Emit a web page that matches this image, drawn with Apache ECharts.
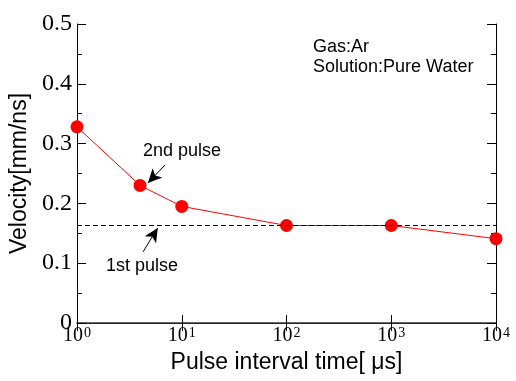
<!DOCTYPE html>
<html>
<head>
<meta charset="utf-8">
<script src="https://cdn.jsdelivr.net/npm/echarts@6/dist/echarts.min.js"></script>
<style>
  html, body { margin: 0; padding: 0; background: #fff; }
  #chart { width: 516px; height: 381px; }
</style>
</head>
<body>
<div id="chart"></div>
<script>
// pulse interval (us) vs velocity (mm/ns)
const intervals = [1, 4, 10, 100, 1000, 10000]
const velocities = [0.328, 0.23, 0.195, 0.163, 0.163, 0.141]
const firstPulseLevel = 0.164

const sans = 'Liberation Sans, Arial, sans-serif'
const serif = 'Liberation Serif, Times New Roman, serif'

const chart = echarts.init(document.getElementById('chart'))

const tickStyle = { color: '#000', width: 1 }

function decadeLabel(v) {
  const e = Math.round(Math.log10(v))
  return '{b|10}{s|' + e + '}'
}

const option = {
  backgroundColor: '#fff',
  animation: false,
  grid: { left: 77, right: 20, top: 24, bottom: 58, containLabel: false, outerBoundsMode: 'none' },
  xAxis: [
    {
      type: 'log',
      logBase: 10,
      min: 1,
      max: 10000,
      name: 'Pulse interval time[ \u03bcs]',
      nameLocation: 'middle',
      nameGap: 27,
      nameTextStyle: { fontFamily: sans, fontSize: 23, color: '#000' },
      axisLine: { lineStyle: { color: '#000', width: 1 } },
      axisTick: { inside: true, length: 8, lineStyle: tickStyle },
      minorTick: { show: false },
      splitLine: { show: false },
      axisLabel: {
        margin: 3,
        color: '#000',
        formatter: decadeLabel,
        rich: {
          b: { fontFamily: serif, fontSize: 20, color: '#000', verticalAlign: 'bottom', lineHeight: 20 },
          s: { fontFamily: serif, fontSize: 14, color: '#000', verticalAlign: 'top', lineHeight: 14, padding: [0, 0, 0, 1] }
        }
      }
    },
    {
      type: 'log',
      logBase: 10,
      min: 1,
      max: 10000,
      position: 'top',
      axisLine: { lineStyle: { color: '#333', width: 1.5 } },
      axisTick: { inside: true, length: 8, lineStyle: tickStyle },
      axisLabel: { show: false },
      splitLine: { show: false }
    }
  ],
  yAxis: [
    {
      type: 'value',
      min: 0,
      max: 0.5,
      interval: 0.1,
      name: 'Velocity[mm/ns]',
      nameLocation: 'middle',
      nameGap: 45,
      nameTextStyle: { fontFamily: sans, fontSize: 23, color: '#000' },
      axisLine: { show: true, lineStyle: { color: '#000', width: 1 } },
      axisTick: { inside: true, length: 9, lineStyle: tickStyle },
      minorTick: { show: true, splitNumber: 2, length: 5, lineStyle: tickStyle },
      splitLine: { show: false },
      axisLabel: {
        margin: 5,
        fontFamily: serif,
        fontSize: 24,
        color: '#000',
        formatter: v => (v === 0 ? '0' : v.toFixed(1))
      }
    },
    {
      type: 'value',
      min: 0,
      max: 0.5,
      interval: 0.1,
      position: 'right',
      axisLine: { show: true, lineStyle: { color: '#000', width: 1 } },
      axisTick: { inside: true, length: 9, lineStyle: tickStyle },
      minorTick: { show: true, splitNumber: 2, length: 5, lineStyle: tickStyle },
      splitLine: { show: false },
      axisLabel: { show: false }
    }
  ],
  series: [
    {
      type: 'line',
      data: intervals.map((x, i) => [x, velocities[i]]),
      clip: false,
      symbol: 'circle',
      symbolSize: 13,
      lineStyle: { color: '#ff0000', width: 1 },
      itemStyle: { color: '#ff0000' },
      z: 3,
      markLine: {
        silent: true,
        animation: false,
        label: { show: false },
        data: [
          [
            { coord: [1, firstPulseLevel], symbol: 'none', lineStyle: { color: '#000', width: 1, type: [5, 3] } },
            { coord: [10000, firstPulseLevel], symbol: 'none' }
          ],
          [
            { coord: [6.9, 0.264], symbol: 'none', lineStyle: { color: '#000', width: 1, type: 'solid' } },
            { coord: [4.75, 0.234], symbol: 'arrow', symbolSize: [10, 14] }
          ],
          [
            { coord: [4.27, 0.119], symbol: 'none', lineStyle: { color: '#000', width: 1, type: 'solid' } },
            { coord: [5.9, 0.159], symbol: 'arrow', symbolSize: [10, 14] }
          ]
        ]
      }
    }
  ],
  graphic: [
    { type: 'text', left: 143, top: 142, style: { text: '2nd pulse', font: '18px ' + sans, fill: '#000' } },
    { type: 'text', left: 106, top: 257, style: { text: '1st pulse', font: '18px ' + sans, fill: '#000' } },
    { type: 'text', left: 313, top: 38, style: { text: 'Gas:Ar', font: '18px ' + sans, fill: '#000' } },
    { type: 'text', left: 313, top: 58, style: { text: 'Solution:Pure Water', font: '18px ' + sans, fill: '#000' } }
  ]
}

chart.setOption(option)
</script>
</body>
</html>
